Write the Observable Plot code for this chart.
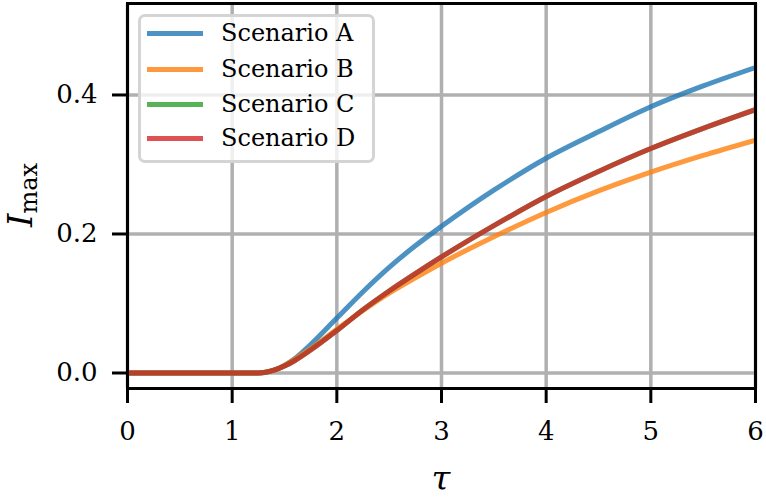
<!DOCTYPE html>
<html>
<head>
<meta charset="utf-8">
<script src="https://cdn.jsdelivr.net/npm/d3@7"></script>
<script src="https://cdn.jsdelivr.net/npm/@observablehq/plot@0.6"></script>
<style>
  html, body { margin: 0; padding: 0; background: #fff; }
  #wrap { position: relative; width: 766px; height: 500px; overflow: hidden; }
  #wrap svg { display: block; }
  .legend {
    position: absolute; left: 138px; top: 14px; width: 237px; height: 149px;
    box-sizing: border-box; border: 3px solid #d4d4d4; border-radius: 7px;
    background: rgba(255,255,255,0.8);
    font-family: "DejaVu Serif", serif; font-size: 24px; color: #000;
  }
  .legend .row { position: absolute; left: 0; height: 0; }
  .legend .swatch { position: absolute; left: 6px; width: 56px; height: 5px; top: -2.5px; }
  .legend .label { position: absolute; left: 80px; top: -15px; line-height: 30px; white-space: nowrap; }
</style>
</head>
<body>
<div id="wrap"></div>
<script>
// ---- data ----
const tau     = [0, 1.0, 1.25, 1.4, 1.5, 1.6, 1.75, 2.0, 2.25, 2.5, 2.75, 3.0, 3.5, 4.0, 4.5, 5.0, 5.5, 6.0];
const seriesA = [0, 0, 0, 0.004, 0.011, 0.021, 0.041, 0.079, 0.117, 0.152, 0.183, 0.211, 0.263, 0.309, 0.347, 0.383, 0.413, 0.4395];
const seriesB = [0, 0, 0, 0.004, 0.011, 0.020, 0.035, 0.063, 0.090, 0.115, 0.137, 0.158, 0.196, 0.231, 0.262, 0.289, 0.313, 0.335];
const seriesC = [0, 0, 0, 0.004, 0.010, 0.018, 0.033, 0.061, 0.091, 0.118, 0.143, 0.167, 0.212, 0.254, 0.290, 0.323, 0.352, 0.379];
const seriesD = [0, 0, 0, 0.004, 0.010, 0.018, 0.033, 0.061, 0.091, 0.118, 0.143, 0.167, 0.212, 0.254, 0.290, 0.323, 0.352, 0.379];
const names   = ["Scenario A", "Scenario B", "Scenario C", "Scenario D"];
const colors  = ["#1f77b4", "#ff7f0e", "#2ca02c", "#d62728"];
const xTicks  = [0, 1, 2, 3, 4, 5, 6];
const yTicks  = [0, 0.2, 0.4];

const allSeries = [seriesA, seriesB, seriesC, seriesD];
const rows = [];
allSeries.forEach((s, i) => tau.forEach((t, j) => rows.push({series: names[i], tau: t, value: s[j]})));

const chart = Plot.plot({
  width: 766, height: 500,
  marginLeft: 127, marginRight: 11, marginTop: 3, marginBottom: 112,
  x: {domain: [0, 6]},
  y: {domain: [-0.0223, 0.5316]},
  style: {fontFamily: "DejaVu Serif", fontSize: "26px", color: "#000", background: "#fff"},
  marks: [
    Plot.gridX(xTicks, {stroke: "#b0b0b0", strokeOpacity: 1, strokeWidth: 3.5}),
    Plot.gridY(yTicks, {stroke: "#b0b0b0", strokeOpacity: 1, strokeWidth: 3.5}),
    ...names.map((n, i) => Plot.line(rows.filter(r => r.series === n), {
      x: "tau", y: "value", stroke: colors[i], strokeWidth: 5, strokeOpacity: 0.8,
      curve: "monotone-x", clip: true
    })),
    Plot.frame({stroke: "#000", strokeWidth: 3}),
    Plot.axisX(xTicks, {tickSize: 15, strokeWidth: 3, tickPadding: 18, fontSize: 26, label: null, tickFormat: d => String(d)}),
    Plot.axisY(yTicks, {tickSize: 15, strokeWidth: 3, tickPadding: 15, fontSize: 26, label: null, tickFormat: d3.format(".1f")})
  ]
});

const wrap = document.getElementById("wrap");
wrap.appendChild(chart);

// axis labels
const svg = d3.select(chart);
const yl = svg.append("text")
  .attr("transform", "translate(32,195) rotate(-90)")
  .attr("text-anchor", "middle")
  .attr("font-family", "DejaVu Serif")
  .attr("fill", "#000");
yl.append("tspan").attr("font-style", "italic").attr("font-size", 34).text("I");
yl.append("tspan").attr("font-size", 24).attr("dy", 5).text("max");

svg.append("text")
  .attr("x", 441).attr("y", 490)
  .attr("text-anchor", "middle")
  .attr("font-family", "DejaVu Serif")
  .attr("font-style", "italic")
  .attr("font-size", 34)
  .attr("fill", "#000")
  .text("τ");

// legend
const legend = document.createElement("div");
legend.className = "legend";
const rowCenters = [19.3, 55, 90, 124.3];
names.forEach((n, i) => {
  const r = document.createElement("div");
  r.className = "row";
  r.style.top = (rowCenters[i] - 3) + "px";
  const sw = document.createElement("div");
  sw.className = "swatch";
  sw.style.background = colors[i];
  sw.style.opacity = 0.8;
  const lb = document.createElement("div");
  lb.className = "label";
  lb.textContent = n;
  r.appendChild(sw); r.appendChild(lb);
  legend.appendChild(r);
});
wrap.appendChild(legend);
</script>
</body>
</html>
